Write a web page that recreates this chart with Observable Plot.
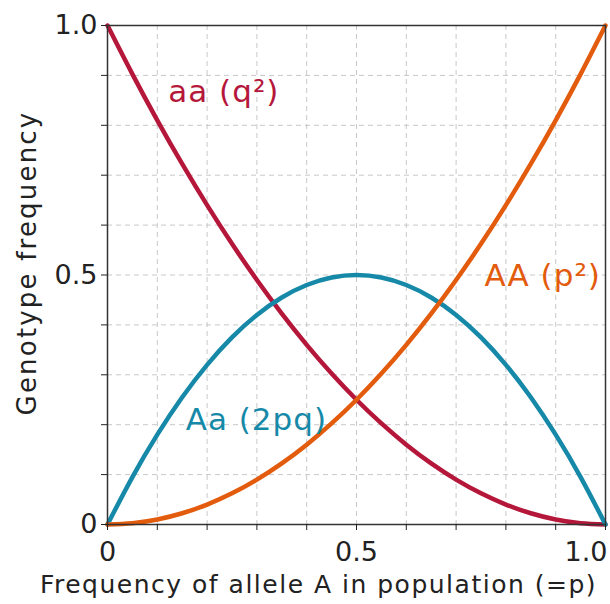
<!DOCTYPE html>
<html>
<head>
<meta charset="utf-8">
<script src="https://cdn.jsdelivr.net/npm/d3@7"></script>
<script src="https://cdn.jsdelivr.net/npm/@observablehq/plot@0.6"></script>
<style>
  body { margin: 0; background: #fff; }
  #chart svg { font-family: "DejaVu Sans", Verdana, sans-serif; }
</style>
</head>
<body>
<div id="chart"></div>
<script>
// Allele frequency p (x axis)
const pValues = [0, 0.05, 0.1, 0.15, 0.2, 0.25, 0.3, 0.35, 0.4, 0.45, 0.5, 0.55, 0.6, 0.65, 0.7, 0.75, 0.8, 0.85, 0.9, 0.95, 1];
// Genotype frequencies
const freqAA = [0, 0.0025, 0.01, 0.0225, 0.04, 0.0625, 0.09, 0.1225, 0.16, 0.2025, 0.25, 0.3025, 0.36, 0.4225, 0.49, 0.5625, 0.64, 0.7225, 0.81, 0.9025, 1];
const freqAa = [0, 0.095, 0.18, 0.255, 0.32, 0.375, 0.42, 0.455, 0.48, 0.495, 0.5, 0.495, 0.48, 0.455, 0.42, 0.375, 0.32, 0.255, 0.18, 0.095, 0];
const freqaa = [1, 0.9025, 0.81, 0.7225, 0.64, 0.5625, 0.49, 0.4225, 0.36, 0.3025, 0.25, 0.2025, 0.16, 0.1225, 0.09, 0.0625, 0.04, 0.0225, 0.01, 0.0025, 0];

const seriesNames = ["aa (q²)", "Aa (2pq)", "AA (p²)"];
const seriesColors = ["#b5173b", "#1689a8", "#e35b0c"];
const labelX = [0.122, 0.157, 0.757];
const labelY = [0.866, 0.210, 0.497];

const tickValues = [0, 0.1, 0.2, 0.3, 0.4, 0.5, 0.6, 0.7, 0.8, 0.9, 1];
const tickLabels = {0: "0", 0.5: "0.5", 1: "1.0"};

const xTitle = "Frequency of allele A in population (=p)";
const yTitle = "Genotype frequency";

const allSeries = [freqaa, freqAa, freqAA];
const rows = [];
allSeries.forEach((vals, i) => vals.forEach((v, j) => rows.push({p: pValues[j], f: v, s: seriesNames[i]})));
const labels = seriesNames.map((s, i) => ({s, x: labelX[i], y: labelY[i]}));

const fmt = d => (tickLabels[d] !== undefined ? tickLabels[d] : "");

const chart = Plot.plot({
  width: 610,
  height: 604,
  marginLeft: 107,
  marginRight: 5,
  marginTop: 25,
  marginBottom: 80,
  x: {domain: [0, 1]},
  y: {domain: [0, 1]},
  color: {domain: seriesNames, range: seriesColors},
  marks: [
    Plot.gridX(tickValues, {stroke: "#c8c8c8", strokeOpacity: 1, strokeDasharray: "5,4"}),
    Plot.gridY(tickValues, {stroke: "#c8c8c8", strokeOpacity: 1, strokeDasharray: "5,4"}),
    Plot.line(rows, {x: "p", y: "f", z: "s", stroke: "s", strokeWidth: 4.5, curve: "natural"}),
    Plot.frame({stroke: "#333", strokeWidth: 1.5}),
    Plot.axisX({ticks: tickValues, tickFormat: d => (d === 1 ? "" : fmt(d)), tickSize: 6, tickPadding: 11, fontSize: 27, label: null, color: "#222"}),
    Plot.axisX({ticks: [1], tickFormat: fmt, tickSize: 0, tickPadding: 17, textAnchor: "end", dx: 2, fontSize: 27, label: null, color: "#222"}),
    Plot.axisY({ticks: tickValues, tickFormat: fmt, tickSize: 6, tickPadding: 4, fontSize: 27, label: null, color: "#222"}),
    Plot.text([xTitle], {frameAnchor: "bottom", textAnchor: "middle", dx: -38, dy: 68, fontSize: 25, fill: "#222"}),
    Plot.text([yTitle], {frameAnchor: "left", textAnchor: "middle", dx: -80, dy: -12, rotate: -90, fontSize: 26, fill: "#222"}),
    Plot.text(labels, {x: "x", y: "y", text: "s", fill: "s", textAnchor: "start", fontSize: 31})
  ]
});
document.getElementById("chart").appendChild(chart);

const spacing = new Map([[xTitle, "1.5px"], [yTitle, "2.2px"]]);
seriesNames.forEach(s => spacing.set(s, "1px"));
d3.select(chart).selectAll("text").each(function () {
  const sp = spacing.get(this.textContent);
  if (sp) this.style.letterSpacing = sp;
});
</script>
</body>
</html>
